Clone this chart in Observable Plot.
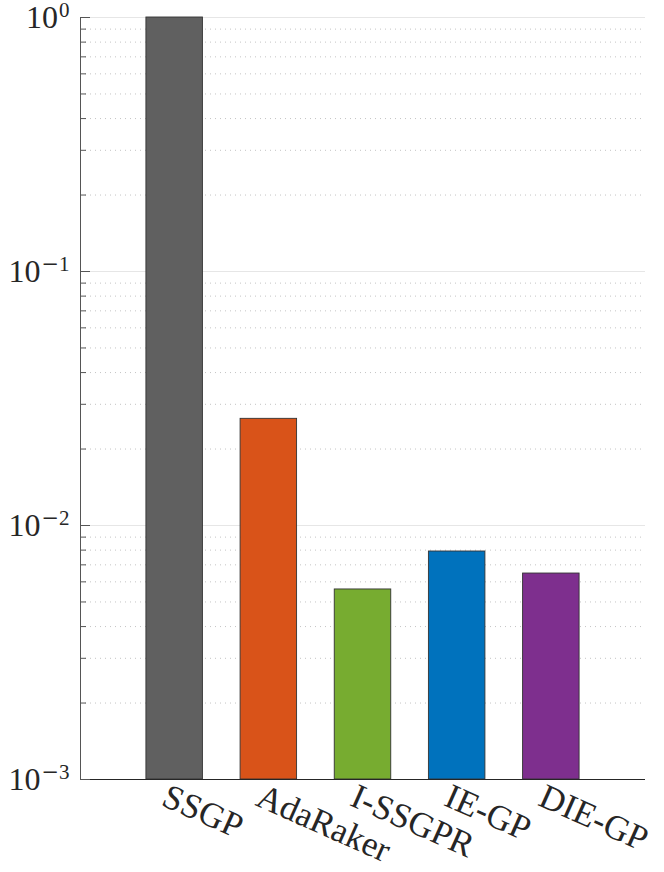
<!DOCTYPE html>
<html><head><meta charset="utf-8">
<script src="https://cdn.jsdelivr.net/npm/d3@7"></script>
<script src="https://cdn.jsdelivr.net/npm/@observablehq/plot@0.6"></script>
<style>
body{margin:0;background:#fff}
</style>
</head><body><div id="chart"></div>
<script>
// ---- data ----
const methods = ["SSGP", "AdaRaker", "I-SSGPR", "IE-GP", "DIE-GP"];
const values = [1.0, 0.0263, 0.0056, 0.0079, 0.00647];
const colors = ["#606060", "#D95319", "#77AC30", "#0072BD", "#7E2F8E"];
const majorTicks = [0.001, 0.01, 0.1, 1];
const majorExponents = ["−3", "−2", "−1", "0"];
const minorTicks = [
  0.002, 0.003, 0.004, 0.005, 0.006, 0.007, 0.008, 0.009,
  0.02, 0.03, 0.04, 0.05, 0.06, 0.07, 0.08, 0.09,
  0.2, 0.3, 0.4, 0.5, 0.6, 0.7, 0.8, 0.9
];
const categoryPositions = [1, 2, 3, 4, 5];

const barWidth = 0.6;
const table = methods.map((m, i) => ({method: m, value: values[i], color: colors[i], pos: categoryPositions[i]}));
const TEXT = "#262626";

const chart = Plot.plot({
  width: 664,
  height: 872,
  marginLeft: 80,
  marginRight: 19,
  marginTop: 17,
  marginBottom: 93,
  style: {fontFamily: "Liberation Serif"},
  x: {type: "linear", domain: [0, methods.length + 1]},
  y: {type: "log", domain: [0.001, 1]},
  color: {type: "identity"},
  marks: [
    Plot.ruleY(minorTicks, {stroke: "#c4c4c4", strokeWidth: 1, strokeDasharray: "1,4"}),
    Plot.ruleY(majorTicks, {stroke: "#e6e6e6", strokeWidth: 1}),
    Plot.rect(table, {
      x1: d => d.pos - barWidth / 2,
      x2: d => d.pos + barWidth / 2,
      y1: () => 0.001,
      y2: "value",
      fill: "color",
      stroke: "#333",
      strokeWidth: 0.9
    }),
    Plot.ruleX([0], {stroke: "#555", strokeWidth: 1}),
    Plot.ruleY([0.001], {stroke: "#262626", strokeWidth: 1}),
    Plot.axisY({ticks: majorTicks, tickSize: -10, tickFormat: () => "", label: null, stroke: "#555"}),
    Plot.axisY({ticks: minorTicks, tickSize: -6, tickFormat: () => "", label: null, stroke: "#555"}),
    Plot.axisY({
      ticks: majorTicks, tickSize: 0, tickPadding: 11, label: null,
      fontSize: 32, fill: TEXT,
      tickFormat: d => majorExponents[majorTicks.indexOf(d)]
    }),
    Plot.axisX({
      ticks: categoryPositions, tickSize: 0, tickPadding: 15, tickRotate: 24, label: null,
      fontSize: 35, fill: TEXT, dx: -10,
      tickFormat: d => methods[categoryPositions.indexOf(d)]
    })
  ]
});

// superscript exponents on the y tick labels
const ns = "http://www.w3.org/2000/svg";
chart.querySelectorAll('g[aria-label="y-axis tick label"] text').forEach(t => {
  const exp = t.textContent;
  if (!exp) return;
  t.textContent = "";
  const base = document.createElementNS(ns, "tspan");
  base.textContent = "10";
  t.append(base);
  let first = true;
  for (const ch of exp) {
    const s = document.createElementNS(ns, "tspan");
    s.textContent = ch;
    s.setAttribute("font-size", "21");
    if (ch === "−") s.setAttribute("font-family", "DejaVu Serif");
    if (first) { s.setAttribute("dy", "-11"); s.setAttribute("dx", "1"); first = false; }
    t.append(s);
  }
});

document.getElementById("chart").append(chart);
</script>
</body></html>
